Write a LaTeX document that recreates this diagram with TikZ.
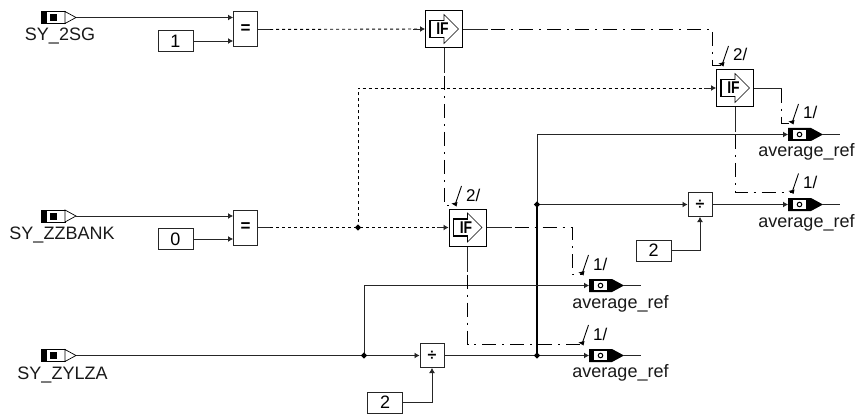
\documentclass[tikz,border=0pt]{standalone}
\usepackage{fontspec}
\setmainfont{Liberation Sans}
\usetikzlibrary{arrows.meta,calc}
\tikzset{
 x=1pt,y=-1pt,
 wire/.style={line width=0.9pt,draw=black!85},
 tip/.style={-{Latex[length=5pt,width=6pt]}},
 thickwire/.style={line width=1.7pt,draw=black},
 dotw/.style={line width=0.9pt,draw=black,dash pattern=on 3pt off 3pt},
 dashdot/.style={line width=0.9pt,draw=black,dash pattern=on 14pt off 6pt on 2pt off 6pt},
 opbox/.style={draw=black!85,line width=1pt,fill=white,minimum width=24pt,minimum height=35pt,inner sep=0pt,font=\bfseries\fontsize{17}{17}\selectfont},
 divbox/.style={draw=black!85,line width=1pt,fill=white,minimum width=24pt,minimum height=24pt,inner sep=0pt,font=\bfseries\fontsize{16}{16}\selectfont},
 constbox/.style={draw=black!85,line width=0.9pt,fill=white,minimum width=35pt,minimum height=21pt,inner sep=0pt,font=\fontsize{18}{18}\selectfont},
 ifbox/.style={draw=black,line width=1pt,fill=white,minimum width=37pt,minimum height=37pt,inner sep=0pt},
 lbl/.style={inner sep=0pt,font=\fontsize{18}{18}\selectfont,text=black!90,anchor=base},
 ticklbl/.style={inner sep=0pt,font=\fontsize{17}{17}\selectfont,anchor=base west},
}
\newcommand{\inport}[3]{% name,x,y (x=left edge, y=centre)
 \draw[line width=0.9pt,fill=white] (#2,#3-6) rectangle (#2+24,#3+6);
 \fill[black] (#2,#3-6) rectangle (#2+6,#3+6);
 \fill[black] (#2+8.5,#3-3.5) rectangle (#2+16,#3+3.5);
 \draw[line width=0.7pt,fill=white] (#2+24,#3-6) -- (#2+35,#3) -- (#2+24,#3+6) -- cycle;
 \coordinate (#1) at (#2+35,#3);
}
\newcommand{\outport}[3]{% name,x,y (x=left edge)
 \fill[black] (#2,#3-6.5) -- (#2+23,#3-6.5) -- (#2+35,#3) -- (#2+23,#3+6.5) -- (#2,#3+6.5) -- cycle;
 \fill[white] (#2+5,#3-4.5) rectangle (#2+18,#3+4.5);
 \draw[line width=1pt] (#2+11.5,#3) circle (2.3pt);
 \coordinate (#1) at (#2,#3);
 \coordinate (#1e) at (#2+35,#3);
 \coordinate (#1x) at (#2+52,#3);
 \draw[wire] (#1e) -- (#1x);
}
\newcommand{\ifblock}[3]{% name,x,y
 \node[ifbox] (#1) at (#2,#3) {};
 \draw[line width=0.6pt,fill=white] (#2-14,#3-8.5) -- (#2,#3-8.5) -- (#2,#3-14.5) -- (#2+14.5,#3) -- (#2,#3+14.5) -- (#2,#3+8.5) -- (#2-14,#3+8.5) -- cycle;
 \draw[line width=1.3pt] (#2+0,#3-8.5) -- (#2-14,#3-8.5) -- (#2-14,#3+8.5) -- (#2,#3+8.5);
 \node[inner sep=0pt,xscale=0.82,font=\bfseries\fontsize{17}{17}\selectfont] (#1t) at (#2-1.5,#3) {IF};
}
\newcommand{\ticklabel}[4]{% name, x, y of tick foot, number
 \coordinate (#1) at (#2,#3);
 \draw[line width=0.9pt] (#1) -- ++(6.5,-19);
 \node[ticklbl] (#1l) at (#2+11,#3-4) {#4/};
}
\begin{document}
\begin{tikzpicture}
\useasboundingbox (0,0) rectangle (856,414);
% inputs
\inport{a}{41}{17.5}
\inport{b}{41}{216}
\inport{c}{41}{355.5}
\node[lbl] (la) at (60,41) {SY\_2SG};
\node[lbl] (lb) at (62,239.5) {SY\_ZZBANK};
\node[lbl] (lc) at (62.5,379) {SY\_ZYLZA};
% constants
\node[constbox] (k1) at (175.5,41) {1};
\node[constbox] (k0) at (175.5,239) {0};
\node[constbox] (k2a) at (653.5,250.5) {2};
\node[constbox] (k2b) at (385,402.5) {2};
% comparators
\node[opbox] (eq1) at (245.5,29.5) {=};
\node[opbox] (eq2) at (245.5,227.5) {=};
% dividers
\node[divbox] (d1) at (700,204.5) {÷};
\node[divbox] (d2) at (432,355.5) {÷};
% IF
\ifblock{if1}{444}{29}
\ifblock{if2}{735}{88}
\ifblock{if3}{467.5}{227.5}
% outputs
\outport{o1}{788}{134.5}
\outport{o2}{788}{204.5}
\outport{o3}{589}{285.5}
\outport{o4}{589}{355.5}
\node[lbl] (lo1) at (806.5,157) {average\_ref};
\node[lbl] (lo2) at (806.5,227) {average\_ref};
\node[lbl] (lo3) at (620.5,308) {average\_ref};
\node[lbl] (lo4) at (620.5,377.5) {average\_ref};
% plain wires
\draw[wire,tip] (a) -- (a-|eq1.west);
\draw[wire,tip] (k1.east) -- (k1-|eq1.west);
\draw[wire,tip] (b) -- (b-|eq2.west);
\draw[wire,tip] (k0.east) -- (k0-|eq2.west);
\draw[wire,tip] (c) -- (d2.west);
\draw[wire,tip] (k2b.east) -| (d2.south);
\draw[wire,tip] (k2a.east) -| (d1.south);
\draw[wire,tip] (d1.east) -- (o2);
\coordinate (j1) at (537,204.5);
\coordinate (j2) at (537,355.5);
\coordinate (j3) at (364,355.5);
\coordinate (j4) at (358,227.5);
\draw[wire,tip] (j1) -- (d1.west);
\draw[wire,tip] (j1) -- (537,134.5) -- (o1);
\draw[thickwire] (j1) -- (j2);
\draw[line width=1.2pt] (d2.east) ++(11,0) -- (j2);
\draw[wire,tip] (d2.east) -- (o4);
\draw[wire,tip] (j3) |- (o3);
\foreach \p in {j1,j2,j3,j4} \fill[black] (\p) +(-3.2,0) -- +(0,-3.2) -- +(3.2,0) -- +(0,3.2) -- cycle;
% dotted
\draw[dotw] (eq1.east) -- (if1.west);
\draw[wire] (eq1.east) -- ++(12,0);
\draw[wire,tip] ($(if1.west)+(-12,0)$) -- (if1.west);
\draw[dotw] (eq2.east) -- (if3.west);
\draw[wire] (eq2.east) -- ++(12,0);
\draw[wire,tip] ($(if3.west)+(-12,0)$) -- (if3.west);
\draw[dotw] (j4) |- (if2.west);
\draw[wire,tip] ($(if2.west)+(-12,0)$) -- (if2.west);
% dash-dot with ticks
\ticklabel{t1}{722}{65}{2}
\ticklabel{t2}{792}{123}{1}
\ticklabel{t3}{792}{192.5}{1}
\ticklabel{t4}{455}{205}{2}
\ticklabel{t5}{582}{274}{1}
\ticklabel{t6}{582}{344}{1}
\draw[dashdot] (if1.east) -| (712,65) -- (t1);
\draw[dashdot] (if2.east) -| (781,123) -- (t2);
\draw[dashdot] (if2.south) |- (t3);
\draw[dashdot] (if1.south) |- (t4);
\draw[dashdot] (if3.east) -| (572,274) -- (t5);
\draw[dashdot] (if3.south) |- (t6);
% solid beginnings of the dash-dot lines
\draw[wire] (if1.east) -- ++(25,0);
\draw[wire] (if2.east) -- ++(28,0);
\draw[wire] (if3.east) -- ++(25,0);
\draw[wire] (if1.south) -- ++(0,25);
\draw[wire] (if2.south) -- ++(0,25);
\draw[wire] (if3.south) -- ++(0,25);
\foreach \p in {t1,t2,t3,t4,t5,t6} \fill[black] (\p) +(1.5,1.5) -- +(-3.5,-1.5) -- +(2.5,-3) -- cycle;
\end{tikzpicture}
\end{document}
